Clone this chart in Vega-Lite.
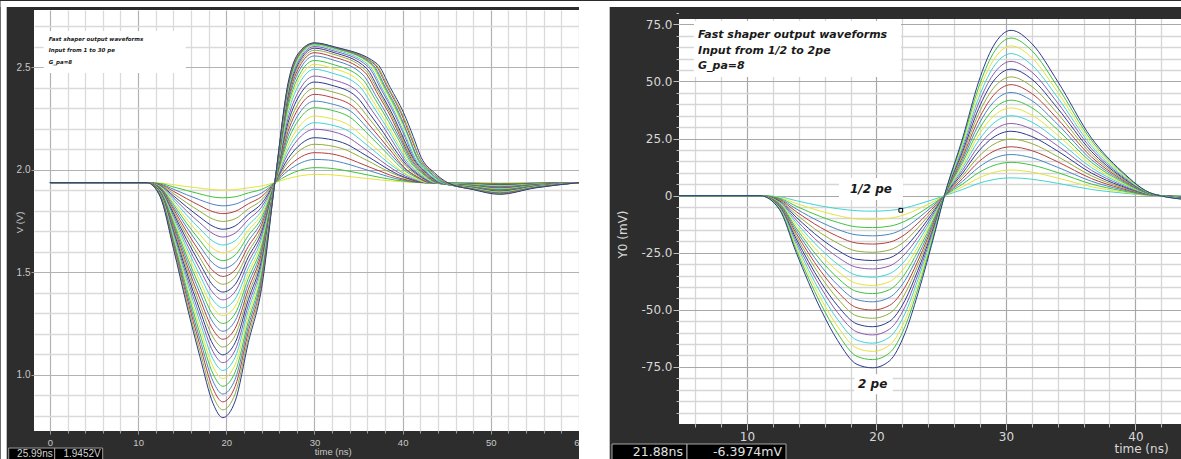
{
"$schema":"https://vega.github.io/schema/vega-lite/v6.json",
"background":"#2d2d2d",
"padding":0,
"config":{"view":{"fill":"#ffffff","stroke":null},"axis":{"domain":false}},
"bounds":"flush",
"spacing":100,
"resolve":{"scale":{"color":"independent"}},
"datasets":{
"Lframe":[{"x1":-5.587,"x2":-4.906,"y1":0.586,"y2":2.822},{"x1":-5.587,"x2":128.3,"y1":2.7926,"y2":2.822},{"x1":60,"x2":63.48,"y1":0.586,"y2":2.822},{"x1":-0.71,"x2":15.4,"y1":2.471,"y2":2.676}],
"Lstat":[{"x1":-4.68,"x2":0.538,"y1":0.586,"y2":0.644},{"x1":0.538,"x2":5.98,"y1":0.586,"y2":0.644}],
"Lnote":[{"x":-0.14,"y":2.637,"text":"Fast shaper output waveforms"},{"x":-0.14,"y":2.583,"text":"Input from 1 to 30 pe"},{"x":-0.14,"y":2.525,"text":"G_pa=8"}],
"Lstxt":[{"x":0.311,"y":0.615,"text":"25.99ns"},{"x":5.755,"y":0.615,"text":"1.9452V"}],
"Rbox":[{"x1":5.91,"x2":21.9,"y1":51.96,"y2":76.48},{"x1":17.11,"x2":22.05,"y1":-1.9,"y2":7.73},{"x1":18.29,"x2":21.26,"y1":-87.0,"y2":-78.24}],
"Rdark":[{"x1":4.75,"x2":43.6,"y1":77.36,"y2":81.3}],
"Rstat":[{"x1":-0.425,"x2":5.368,"y1":-115.77,"y2":-108.76},{"x1":5.368,"x2":13.014,"y1":-115.77,"y2":-108.76}],
"Rnote":[{"x":6.22,"y":70.57,"text":"Fast shaper output waveforms"},{"x":6.22,"y":63.56,"text":"Input from 1/2 to 2pe"},{"x":6.22,"y":56.78,"text":"G_pa=8"}],
"Rlab":[{"x":19.58,"y":2.78,"text":"1/2 pe"},{"x":19.71,"y":-82.6,"text":"2 pe"}],
"Rcur":[{"t":21.88,"v":-6.4}],
"Rstxt":[{"x":5.06,"y":-112.48,"text":"21.88ns"},{"x":12.71,"y":-112.48,"text":"-6.3974mV"}],
"L":[
{"k":1,"t":0,"v":1.937},{"k":1,"t":11,"v":1.937},{"k":1,"t":12.5,"v":1.935},{"k":1,"t":14,"v":1.927},{"k":1,"t":15.5,"v":1.918},{"k":1,"t":17,"v":1.910},{"k":1,"t":18.5,"v":1.903},{"k":1,"t":19.6,"v":1.901},{"k":1,"t":21,"v":1.903},{"k":1,"t":22.5,"v":1.912},{"k":1,"t":24,"v":1.921},{"k":1,"t":25.5,"v":1.937},{"k":1,"t":27,"v":1.957},{"k":1,"t":28.5,"v":1.971},{"k":1,"t":30,"v":1.977},{"k":1,"t":31.5,"v":1.976},{"k":1,"t":33,"v":1.971},{"k":1,"t":34.5,"v":1.964},{"k":1,"t":36,"v":1.957},{"k":1,"t":37.5,"v":1.950},{"k":1,"t":39,"v":1.944},{"k":1,"t":40.5,"v":1.940},{"k":1,"t":42,"v":1.937},{"k":1,"t":48,"v":1.936},{"k":1,"t":51,"v":1.935},{"k":1,"t":55,"v":1.936},{"k":1,"t":60,"v":1.937},
{"k":2,"t":0,"v":1.937},{"k":2,"t":11,"v":1.937},{"k":2,"t":12.5,"v":1.933},{"k":2,"t":14,"v":1.916},{"k":2,"t":15.5,"v":1.899},{"k":2,"t":17,"v":1.882},{"k":2,"t":18.5,"v":1.867},{"k":2,"t":19.6,"v":1.863},{"k":2,"t":21,"v":1.868},{"k":2,"t":22.5,"v":1.887},{"k":2,"t":24,"v":1.904},{"k":2,"t":25.5,"v":1.937},{"k":2,"t":27,"v":1.974},{"k":2,"t":28.5,"v":1.999},{"k":2,"t":30,"v":2.010},{"k":2,"t":31.5,"v":2.008},{"k":2,"t":33.1,"v":1.999},{"k":2,"t":34.6,"v":1.987},{"k":2,"t":36.1,"v":1.974},{"k":2,"t":37.6,"v":1.961},{"k":2,"t":39.1,"v":1.950},{"k":2,"t":40.6,"v":1.942},{"k":2,"t":42.1,"v":1.937},{"k":2,"t":48,"v":1.935},{"k":2,"t":51,"v":1.933},{"k":2,"t":55,"v":1.935},{"k":2,"t":60,"v":1.937},
{"k":3,"t":0,"v":1.937},{"k":3,"t":11,"v":1.937},{"k":3,"t":12.5,"v":1.930},{"k":3,"t":14,"v":1.905},{"k":3,"t":15.5,"v":1.878},{"k":3,"t":17,"v":1.853},{"k":3,"t":18.5,"v":1.831},{"k":3,"t":19.6,"v":1.824},{"k":3,"t":21,"v":1.832},{"k":3,"t":22.5,"v":1.860},{"k":3,"t":24,"v":1.886},{"k":3,"t":25.5,"v":1.937},{"k":3,"t":27,"v":1.995},{"k":3,"t":28.5,"v":2.034},{"k":3,"t":30,"v":2.050},{"k":3,"t":31.6,"v":2.047},{"k":3,"t":33.3,"v":2.033},{"k":3,"t":34.8,"v":2.014},{"k":3,"t":36.3,"v":1.994},{"k":3,"t":37.8,"v":1.974},{"k":3,"t":39.2,"v":1.957},{"k":3,"t":40.7,"v":1.945},{"k":3,"t":42.2,"v":1.937},{"k":3,"t":48,"v":1.934},{"k":3,"t":51,"v":1.931},{"k":3,"t":55,"v":1.934},{"k":3,"t":60,"v":1.937},
{"k":4,"t":0,"v":1.937},{"k":4,"t":11,"v":1.937},{"k":4,"t":12.5,"v":1.928},{"k":4,"t":14,"v":1.895},{"k":4,"t":15.5,"v":1.859},{"k":4,"t":17,"v":1.825},{"k":4,"t":18.5,"v":1.795},{"k":4,"t":19.6,"v":1.786},{"k":4,"t":21,"v":1.797},{"k":4,"t":22.5,"v":1.834},{"k":4,"t":24,"v":1.869},{"k":4,"t":25.5,"v":1.937},{"k":4,"t":27,"v":2.013},{"k":4,"t":28.5,"v":2.063},{"k":4,"t":30,"v":2.083},{"k":4,"t":31.6,"v":2.079},{"k":4,"t":33.4,"v":2.061},{"k":4,"t":34.9,"v":2.036},{"k":4,"t":36.4,"v":2.010},{"k":4,"t":37.9,"v":1.985},{"k":4,"t":39.3,"v":1.963},{"k":4,"t":40.8,"v":1.947},{"k":4,"t":42.3,"v":1.937},{"k":4,"t":48,"v":1.932},{"k":4,"t":51,"v":1.929},{"k":4,"t":55,"v":1.934},{"k":4,"t":60,"v":1.937},
{"k":5,"t":0,"v":1.937},{"k":5,"t":11,"v":1.937},{"k":5,"t":12.5,"v":1.926},{"k":5,"t":14,"v":1.884},{"k":5,"t":15.5,"v":1.839},{"k":5,"t":17,"v":1.797},{"k":5,"t":18.5,"v":1.759},{"k":5,"t":19.6,"v":1.748},{"k":5,"t":21,"v":1.761},{"k":5,"t":22.5,"v":1.809},{"k":5,"t":24,"v":1.852},{"k":5,"t":25.5,"v":1.937},{"k":5,"t":27,"v":2.036},{"k":5,"t":28.5,"v":2.099},{"k":5,"t":30,"v":2.124},{"k":5,"t":31.6,"v":2.118},{"k":5,"t":33.6,"v":2.096},{"k":5,"t":35.1,"v":2.064},{"k":5,"t":36.6,"v":2.031},{"k":5,"t":38,"v":1.999},{"k":5,"t":39.5,"v":1.971},{"k":5,"t":41,"v":1.950},{"k":5,"t":42.5,"v":1.937},{"k":5,"t":48,"v":1.931},{"k":5,"t":51,"v":1.928},{"k":5,"t":55,"v":1.933},{"k":5,"t":60,"v":1.937},
{"k":6,"t":0,"v":1.937},{"k":6,"t":11,"v":1.937},{"k":6,"t":12.5,"v":1.923},{"k":6,"t":14,"v":1.873},{"k":6,"t":15.5,"v":1.819},{"k":6,"t":17,"v":1.769},{"k":6,"t":18.5,"v":1.724},{"k":6,"t":19.6,"v":1.710},{"k":6,"t":21,"v":1.726},{"k":6,"t":22.5,"v":1.783},{"k":6,"t":24,"v":1.835},{"k":6,"t":25.5,"v":1.937},{"k":6,"t":27,"v":2.054},{"k":6,"t":28.5,"v":2.127},{"k":6,"t":30,"v":2.156},{"k":6,"t":31.6,"v":2.149},{"k":6,"t":33.7,"v":2.123},{"k":6,"t":35.2,"v":2.086},{"k":6,"t":36.7,"v":2.047},{"k":6,"t":38.1,"v":2.009},{"k":6,"t":39.5,"v":1.976},{"k":6,"t":41,"v":1.952},{"k":6,"t":42.5,"v":1.937},{"k":6,"t":48,"v":1.930},{"k":6,"t":51,"v":1.926},{"k":6,"t":55,"v":1.932},{"k":6,"t":60,"v":1.937},
{"k":7,"t":0,"v":1.937},{"k":7,"t":11,"v":1.937},{"k":7,"t":12.5,"v":1.921},{"k":7,"t":14,"v":1.863},{"k":7,"t":15.5,"v":1.799},{"k":7,"t":17,"v":1.741},{"k":7,"t":18.5,"v":1.688},{"k":7,"t":19.6,"v":1.672},{"k":7,"t":21,"v":1.691},{"k":7,"t":22.5,"v":1.757},{"k":7,"t":24,"v":1.818},{"k":7,"t":25.5,"v":1.937},{"k":7,"t":27,"v":2.078},{"k":7,"t":28.5,"v":2.164},{"k":7,"t":30,"v":2.197},{"k":7,"t":31.7,"v":2.189},{"k":7,"t":33.8,"v":2.158},{"k":7,"t":35.3,"v":2.114},{"k":7,"t":36.8,"v":2.067},{"k":7,"t":38.2,"v":2.023},{"k":7,"t":39.6,"v":1.984},{"k":7,"t":41.1,"v":1.955},{"k":7,"t":42.6,"v":1.937},{"k":7,"t":48,"v":1.929},{"k":7,"t":51,"v":1.924},{"k":7,"t":55,"v":1.931},{"k":7,"t":60,"v":1.937},
{"k":8,"t":0,"v":1.937},{"k":8,"t":11,"v":1.937},{"k":8,"t":12.5,"v":1.919},{"k":8,"t":14,"v":1.852},{"k":8,"t":15.5,"v":1.779},{"k":8,"t":17,"v":1.712},{"k":8,"t":18.5,"v":1.651},{"k":8,"t":19.6,"v":1.633},{"k":8,"t":21,"v":1.654},{"k":8,"t":22.5,"v":1.730},{"k":8,"t":24,"v":1.800},{"k":8,"t":25.5,"v":1.937},{"k":8,"t":27,"v":2.098},{"k":8,"t":28.5,"v":2.192},{"k":8,"t":30,"v":2.229},{"k":8,"t":31.7,"v":2.220},{"k":8,"t":34,"v":2.185},{"k":8,"t":35.5,"v":2.136},{"k":8,"t":37,"v":2.083},{"k":8,"t":38.4,"v":2.033},{"k":8,"t":39.8,"v":1.990},{"k":8,"t":41.3,"v":1.957},{"k":8,"t":42.8,"v":1.937},{"k":8,"t":48,"v":1.928},{"k":8,"t":51,"v":1.922},{"k":8,"t":55,"v":1.930},{"k":8,"t":60,"v":1.937},
{"k":9,"t":0,"v":1.937},{"k":9,"t":11,"v":1.937},{"k":9,"t":12.5,"v":1.917},{"k":9,"t":14,"v":1.841},{"k":9,"t":15.5,"v":1.759},{"k":9,"t":17,"v":1.684},{"k":9,"t":18.5,"v":1.616},{"k":9,"t":19.6,"v":1.595},{"k":9,"t":21,"v":1.619},{"k":9,"t":22.5,"v":1.704},{"k":9,"t":24,"v":1.783},{"k":9,"t":25.5,"v":1.937},{"k":9,"t":27,"v":2.118},{"k":9,"t":28.5,"v":2.222},{"k":9,"t":30,"v":2.261},{"k":9,"t":31.7,"v":2.251},{"k":9,"t":34.1,"v":2.212},{"k":9,"t":35.6,"v":2.157},{"k":9,"t":37.1,"v":2.099},{"k":9,"t":38.5,"v":2.044},{"k":9,"t":39.8,"v":1.995},{"k":9,"t":41.3,"v":1.960},{"k":9,"t":42.8,"v":1.937},{"k":9,"t":48,"v":1.927},{"k":9,"t":51,"v":1.920},{"k":9,"t":55,"v":1.929},{"k":9,"t":60,"v":1.937},
{"k":10,"t":0,"v":1.937},{"k":10,"t":11,"v":1.937},{"k":10,"t":12.5,"v":1.914},{"k":10,"t":14,"v":1.831},{"k":10,"t":15.5,"v":1.739},{"k":10,"t":17,"v":1.656},{"k":10,"t":18.5,"v":1.580},{"k":10,"t":19.6,"v":1.557},{"k":10,"t":21,"v":1.584},{"k":10,"t":22.5,"v":1.679},{"k":10,"t":24,"v":1.766},{"k":10,"t":25.5,"v":1.937},{"k":10,"t":27,"v":2.143},{"k":10,"t":28.5,"v":2.259},{"k":10,"t":30,"v":2.302},{"k":10,"t":31.8,"v":2.291},{"k":10,"t":34.3,"v":2.247},{"k":10,"t":35.8,"v":2.185},{"k":10,"t":37.3,"v":2.120},{"k":10,"t":38.7,"v":2.058},{"k":10,"t":40,"v":2.003},{"k":10,"t":41.5,"v":1.963},{"k":10,"t":43,"v":1.937},{"k":10,"t":48,"v":1.926},{"k":10,"t":51,"v":1.918},{"k":10,"t":55,"v":1.928},{"k":10,"t":60,"v":1.937},
{"k":11,"t":0,"v":1.937},{"k":11,"t":11,"v":1.937},{"k":11,"t":12.5,"v":1.912},{"k":11,"t":14,"v":1.820},{"k":11,"t":15.5,"v":1.720},{"k":11,"t":17,"v":1.628},{"k":11,"t":18.5,"v":1.544},{"k":11,"t":19.6,"v":1.519},{"k":11,"t":21,"v":1.548},{"k":11,"t":22.5,"v":1.653},{"k":11,"t":24,"v":1.749},{"k":11,"t":25.5,"v":1.937},{"k":11,"t":27,"v":2.164},{"k":11,"t":28.5,"v":2.288},{"k":11,"t":30,"v":2.334},{"k":11,"t":31.8,"v":2.322},{"k":11,"t":34.4,"v":2.275},{"k":11,"t":35.9,"v":2.207},{"k":11,"t":37.4,"v":2.136},{"k":11,"t":38.8,"v":2.068},{"k":11,"t":40.1,"v":2.009},{"k":11,"t":41.6,"v":1.965},{"k":11,"t":43.1,"v":1.937},{"k":11,"t":48,"v":1.924},{"k":11,"t":51,"v":1.916},{"k":11,"t":55,"v":1.928},{"k":11,"t":60,"v":1.937},
{"k":12,"t":0,"v":1.937},{"k":12,"t":11,"v":1.937},{"k":12,"t":12.5,"v":1.910},{"k":12,"t":14,"v":1.809},{"k":12,"t":15.5,"v":1.699},{"k":12,"t":17,"v":1.599},{"k":12,"t":18.5,"v":1.507},{"k":12,"t":19.6,"v":1.480},{"k":12,"t":21,"v":1.512},{"k":12,"t":22.5,"v":1.626},{"k":12,"t":24,"v":1.731},{"k":12,"t":25.5,"v":1.937},{"k":12,"t":27,"v":2.186},{"k":12,"t":28.5,"v":2.319},{"k":12,"t":30,"v":2.367},{"k":12,"t":31.8,"v":2.354},{"k":12,"t":34.5,"v":2.303},{"k":12,"t":36,"v":2.229},{"k":12,"t":37.5,"v":2.152},{"k":12,"t":38.9,"v":2.079},{"k":12,"t":40.1,"v":2.014},{"k":12,"t":41.6,"v":1.967},{"k":12,"t":43.1,"v":1.937},{"k":12,"t":48,"v":1.923},{"k":12,"t":51,"v":1.914},{"k":12,"t":55,"v":1.927},{"k":12,"t":60,"v":1.937},
{"k":13,"t":0,"v":1.937},{"k":13,"t":11,"v":1.937},{"k":13,"t":12.5,"v":1.907},{"k":13,"t":14,"v":1.798},{"k":13,"t":15.5,"v":1.680},{"k":13,"t":17,"v":1.571},{"k":13,"t":18.5,"v":1.472},{"k":13,"t":19.6,"v":1.442},{"k":13,"t":21,"v":1.477},{"k":13,"t":22.5,"v":1.600},{"k":13,"t":24,"v":1.714},{"k":13,"t":25.5,"v":1.937},{"k":13,"t":27,"v":2.206},{"k":13,"t":28.5,"v":2.346},{"k":13,"t":30,"v":2.396},{"k":13,"t":31.8,"v":2.382},{"k":13,"t":34.7,"v":2.327},{"k":13,"t":36.2,"v":2.249},{"k":13,"t":37.7,"v":2.167},{"k":13,"t":39,"v":2.089},{"k":13,"t":40.3,"v":2.020},{"k":13,"t":41.8,"v":1.969},{"k":13,"t":43.3,"v":1.937},{"k":13,"t":48,"v":1.922},{"k":13,"t":51,"v":1.912},{"k":13,"t":55,"v":1.926},{"k":13,"t":60,"v":1.937},
{"k":14,"t":0,"v":1.937},{"k":14,"t":11,"v":1.937},{"k":14,"t":12.5,"v":1.905},{"k":14,"t":14,"v":1.788},{"k":14,"t":15.5,"v":1.660},{"k":14,"t":17,"v":1.543},{"k":14,"t":18.5,"v":1.436},{"k":14,"t":19.6,"v":1.404},{"k":14,"t":21,"v":1.441},{"k":14,"t":22.5,"v":1.575},{"k":14,"t":24,"v":1.697},{"k":14,"t":25.5,"v":1.937},{"k":14,"t":27,"v":2.228},{"k":14,"t":28.5,"v":2.376},{"k":14,"t":30,"v":2.427},{"k":14,"t":31.9,"v":2.412},{"k":14,"t":34.8,"v":2.354},{"k":14,"t":36.3,"v":2.270},{"k":14,"t":37.8,"v":2.182},{"k":14,"t":39.1,"v":2.099},{"k":14,"t":40.4,"v":2.025},{"k":14,"t":41.9,"v":1.971},{"k":14,"t":43.4,"v":1.937},{"k":14,"t":48,"v":1.921},{"k":14,"t":51,"v":1.910},{"k":14,"t":55,"v":1.925},{"k":14,"t":60,"v":1.937},
{"k":15,"t":0,"v":1.937},{"k":15,"t":11,"v":1.937},{"k":15,"t":12.5,"v":1.903},{"k":15,"t":14,"v":1.777},{"k":15,"t":15.5,"v":1.640},{"k":15,"t":17,"v":1.515},{"k":15,"t":18.5,"v":1.400},{"k":15,"t":19.6,"v":1.366},{"k":15,"t":21,"v":1.406},{"k":15,"t":22.5,"v":1.549},{"k":15,"t":24,"v":1.680},{"k":15,"t":25.5,"v":1.937},{"k":15,"t":27,"v":2.249},{"k":15,"t":28.5,"v":2.403},{"k":15,"t":30,"v":2.456},{"k":15,"t":31.9,"v":2.440},{"k":15,"t":35,"v":2.378},{"k":15,"t":36.5,"v":2.290},{"k":15,"t":38,"v":2.197},{"k":15,"t":39.3,"v":2.108},{"k":15,"t":40.5,"v":2.030},{"k":15,"t":42,"v":1.973},{"k":15,"t":43.5,"v":1.937},{"k":15,"t":48,"v":1.920},{"k":15,"t":51,"v":1.909},{"k":15,"t":55,"v":1.924},{"k":15,"t":60,"v":1.937},
{"k":16,"t":0,"v":1.937},{"k":16,"t":11,"v":1.937},{"k":16,"t":12.5,"v":1.900},{"k":16,"t":14,"v":1.766},{"k":16,"t":15.5,"v":1.620},{"k":16,"t":17,"v":1.486},{"k":16,"t":18.5,"v":1.364},{"k":16,"t":19.6,"v":1.327},{"k":16,"t":21,"v":1.370},{"k":16,"t":22.5,"v":1.522},{"k":16,"t":24,"v":1.663},{"k":16,"t":25.5,"v":1.937},{"k":16,"t":27,"v":2.273},{"k":16,"t":28.5,"v":2.435},{"k":16,"t":30,"v":2.489},{"k":16,"t":31.9,"v":2.472},{"k":16,"t":35.1,"v":2.406},{"k":16,"t":36.6,"v":2.312},{"k":16,"t":38.1,"v":2.213},{"k":16,"t":39.4,"v":2.119},{"k":16,"t":40.6,"v":2.036},{"k":16,"t":42.1,"v":1.976},{"k":16,"t":43.6,"v":1.937},{"k":16,"t":48,"v":1.919},{"k":16,"t":51,"v":1.907},{"k":16,"t":55,"v":1.923},{"k":16,"t":60,"v":1.937},
{"k":17,"t":0,"v":1.937},{"k":17,"t":11,"v":1.937},{"k":17,"t":12.5,"v":1.898},{"k":17,"t":14,"v":1.756},{"k":17,"t":15.5,"v":1.600},{"k":17,"t":17,"v":1.458},{"k":17,"t":18.5,"v":1.328},{"k":17,"t":19.6,"v":1.289},{"k":17,"t":21,"v":1.334},{"k":17,"t":22.5,"v":1.496},{"k":17,"t":24,"v":1.645},{"k":17,"t":25.5,"v":1.937},{"k":17,"t":27,"v":2.292},{"k":17,"t":28.5,"v":2.458},{"k":17,"t":30,"v":2.513},{"k":17,"t":31.9,"v":2.496},{"k":17,"t":35.2,"v":2.427},{"k":17,"t":36.7,"v":2.329},{"k":17,"t":38.2,"v":2.225},{"k":17,"t":39.5,"v":2.127},{"k":17,"t":40.7,"v":2.041},{"k":17,"t":42.2,"v":1.977},{"k":17,"t":43.7,"v":1.937},{"k":17,"t":48,"v":1.918},{"k":17,"t":51,"v":1.905},{"k":17,"t":55,"v":1.922},{"k":17,"t":60,"v":1.937},
{"k":18,"t":0,"v":1.937},{"k":18,"t":11,"v":1.937},{"k":18,"t":12.5,"v":1.896},{"k":18,"t":14,"v":1.745},{"k":18,"t":15.5,"v":1.580},{"k":18,"t":17,"v":1.429},{"k":18,"t":18.5,"v":1.292},{"k":18,"t":19.6,"v":1.251},{"k":18,"t":21,"v":1.299},{"k":18,"t":22.5,"v":1.471},{"k":18,"t":24,"v":1.628},{"k":18,"t":25.5,"v":1.937},{"k":18,"t":27,"v":2.308},{"k":18,"t":28.5,"v":2.478},{"k":18,"t":30,"v":2.532},{"k":18,"t":32,"v":2.514},{"k":18,"t":35.4,"v":2.443},{"k":18,"t":36.9,"v":2.342},{"k":18,"t":38.4,"v":2.235},{"k":18,"t":39.7,"v":2.133},{"k":18,"t":40.8,"v":2.044},{"k":18,"t":42.3,"v":1.979},{"k":18,"t":43.8,"v":1.937},{"k":18,"t":48,"v":1.917},{"k":18,"t":51,"v":1.903},{"k":18,"t":55,"v":1.922},{"k":18,"t":60,"v":1.937},
{"k":19,"t":0,"v":1.937},{"k":19,"t":11,"v":1.937},{"k":19,"t":12.5,"v":1.894},{"k":19,"t":14,"v":1.734},{"k":19,"t":15.5,"v":1.561},{"k":19,"t":17,"v":1.401},{"k":19,"t":18.5,"v":1.256},{"k":19,"t":19.6,"v":1.213},{"k":19,"t":21,"v":1.264},{"k":19,"t":22.5,"v":1.445},{"k":19,"t":24,"v":1.611},{"k":19,"t":25.5,"v":1.937},{"k":19,"t":27,"v":2.326},{"k":19,"t":28.5,"v":2.500},{"k":19,"t":30,"v":2.554},{"k":19,"t":32,"v":2.536},{"k":19,"t":35.5,"v":2.462},{"k":19,"t":37,"v":2.357},{"k":19,"t":38.5,"v":2.246},{"k":19,"t":39.8,"v":2.141},{"k":19,"t":40.9,"v":2.048},{"k":19,"t":42.4,"v":1.980},{"k":19,"t":43.9,"v":1.937},{"k":19,"t":48,"v":1.915},{"k":19,"t":51,"v":1.901},{"k":19,"t":55,"v":1.921},{"k":19,"t":60,"v":1.937},
{"k":20,"t":0,"v":1.937},{"k":20,"t":11,"v":1.937},{"k":20,"t":12.5,"v":1.891},{"k":20,"t":14,"v":1.723},{"k":20,"t":15.5,"v":1.540},{"k":20,"t":17,"v":1.372},{"k":20,"t":18.5,"v":1.220},{"k":20,"t":19.6,"v":1.174},{"k":20,"t":21,"v":1.227},{"k":20,"t":22.5,"v":1.418},{"k":20,"t":24,"v":1.594},{"k":20,"t":25.5,"v":1.937},{"k":20,"t":27,"v":2.341},{"k":20,"t":28.5,"v":2.517},{"k":20,"t":30,"v":2.570},{"k":20,"t":32,"v":2.551},{"k":20,"t":35.7,"v":2.475},{"k":20,"t":37.2,"v":2.367},{"k":20,"t":38.7,"v":2.254},{"k":20,"t":39.9,"v":2.146},{"k":20,"t":41,"v":2.051},{"k":20,"t":42.5,"v":1.981},{"k":20,"t":44,"v":1.937},{"k":20,"t":48,"v":1.914},{"k":20,"t":51,"v":1.899},{"k":20,"t":55,"v":1.920},{"k":20,"t":60,"v":1.937},
{"k":21,"t":0,"v":1.937},{"k":21,"t":11,"v":1.937},{"k":21,"t":12.5,"v":1.889},{"k":21,"t":14,"v":1.713},{"k":21,"t":15.5,"v":1.521},{"k":21,"t":17,"v":1.344},{"k":21,"t":18.5,"v":1.184},{"k":21,"t":19.6,"v":1.136},{"k":21,"t":21,"v":1.192},{"k":21,"t":22.5,"v":1.392},{"k":21,"t":24,"v":1.577},{"k":21,"t":25.5,"v":1.937},{"k":21,"t":27,"v":2.353},{"k":21,"t":28.5,"v":2.530},{"k":21,"t":30,"v":2.582},{"k":21,"t":32.1,"v":2.563},{"k":21,"t":35.8,"v":2.485},{"k":21,"t":37.3,"v":2.376},{"k":21,"t":38.8,"v":2.260},{"k":21,"t":40,"v":2.150},{"k":21,"t":41.1,"v":2.053},{"k":21,"t":42.6,"v":1.982},{"k":21,"t":44.1,"v":1.937},{"k":21,"t":48,"v":1.913},{"k":21,"t":51,"v":1.897},{"k":21,"t":55,"v":1.919},{"k":21,"t":60,"v":1.937},
{"k":22,"t":0,"v":1.937},{"k":22,"t":11,"v":1.937},{"k":22,"t":12.5,"v":1.887},{"k":22,"t":14,"v":1.702},{"k":22,"t":15.5,"v":1.501},{"k":22,"t":17,"v":1.316},{"k":22,"t":18.5,"v":1.148},{"k":22,"t":19.6,"v":1.098},{"k":22,"t":21,"v":1.157},{"k":22,"t":22.5,"v":1.367},{"k":22,"t":24,"v":1.559},{"k":22,"t":25.5,"v":1.937},{"k":22,"t":27,"v":2.364},{"k":22,"t":28.5,"v":2.541},{"k":22,"t":30,"v":2.592},{"k":22,"t":32.1,"v":2.572},{"k":22,"t":35.9,"v":2.494},{"k":22,"t":37.4,"v":2.382},{"k":22,"t":38.9,"v":2.265},{"k":22,"t":40.1,"v":2.153},{"k":22,"t":41.2,"v":2.055},{"k":22,"t":42.7,"v":1.983},{"k":22,"t":44.2,"v":1.937},{"k":22,"t":48,"v":1.912},{"k":22,"t":51,"v":1.895},{"k":22,"t":55,"v":1.918},{"k":22,"t":60,"v":1.937},
{"k":23,"t":0,"v":1.937},{"k":23,"t":11,"v":1.937},{"k":23,"t":12.5,"v":1.884},{"k":23,"t":14,"v":1.691},{"k":23,"t":15.5,"v":1.481},{"k":23,"t":17,"v":1.288},{"k":23,"t":18.5,"v":1.113},{"k":23,"t":19.6,"v":1.060},{"k":23,"t":21,"v":1.121},{"k":23,"t":22.5,"v":1.341},{"k":23,"t":24,"v":1.542},{"k":23,"t":25.5,"v":1.937},{"k":23,"t":27,"v":2.374},{"k":23,"t":28.5,"v":2.551},{"k":23,"t":30,"v":2.600},{"k":23,"t":32.1,"v":2.580},{"k":23,"t":36.1,"v":2.501},{"k":23,"t":37.6,"v":2.388},{"k":23,"t":39.1,"v":2.269},{"k":23,"t":40.3,"v":2.156},{"k":23,"t":41.3,"v":2.056},{"k":23,"t":42.8,"v":1.983},{"k":23,"t":44.3,"v":1.937},{"k":23,"t":48,"v":1.911},{"k":23,"t":51,"v":1.893},{"k":23,"t":55,"v":1.917},{"k":23,"t":60,"v":1.937},
{"k":24,"t":0,"v":1.937},{"k":24,"t":11,"v":1.937},{"k":24,"t":12.5,"v":1.882},{"k":24,"t":14,"v":1.681},{"k":24,"t":15.5,"v":1.461},{"k":24,"t":17,"v":1.260},{"k":24,"t":18.5,"v":1.077},{"k":24,"t":19.6,"v":1.022},{"k":24,"t":21,"v":1.086},{"k":24,"t":22.5,"v":1.315},{"k":24,"t":24,"v":1.525},{"k":24,"t":25.5,"v":1.937},{"k":24,"t":27,"v":2.384},{"k":24,"t":28.5,"v":2.559},{"k":24,"t":30,"v":2.607},{"k":24,"t":32.1,"v":2.587},{"k":24,"t":36.2,"v":2.507},{"k":24,"t":37.7,"v":2.393},{"k":24,"t":39.2,"v":2.272},{"k":24,"t":40.4,"v":2.158},{"k":24,"t":41.4,"v":2.058},{"k":24,"t":42.9,"v":1.984},{"k":24,"t":44.4,"v":1.937},{"k":24,"t":48,"v":1.910},{"k":24,"t":51,"v":1.891},{"k":24,"t":55,"v":1.917},{"k":24,"t":60,"v":1.937},
{"k":25,"t":0,"v":1.937},{"k":25,"t":11,"v":1.937},{"k":25,"t":12.5,"v":1.880},{"k":25,"t":14,"v":1.670},{"k":25,"t":15.5,"v":1.441},{"k":25,"t":17,"v":1.231},{"k":25,"t":18.5,"v":1.040},{"k":25,"t":19.6,"v":0.983},{"k":25,"t":21,"v":1.050},{"k":25,"t":22.5,"v":1.288},{"k":25,"t":24,"v":1.508},{"k":25,"t":25.5,"v":1.937},{"k":25,"t":27,"v":2.391},{"k":25,"t":28.5,"v":2.566},{"k":25,"t":30,"v":2.611},{"k":25,"t":32.2,"v":2.591},{"k":25,"t":36.4,"v":2.510},{"k":25,"t":37.9,"v":2.395},{"k":25,"t":39.4,"v":2.274},{"k":25,"t":40.6,"v":2.159},{"k":25,"t":41.6,"v":2.058},{"k":25,"t":43.1,"v":1.984},{"k":25,"t":44.6,"v":1.937},{"k":25,"t":48,"v":1.909},{"k":25,"t":51,"v":1.890},{"k":25,"t":55,"v":1.916},{"k":25,"t":60,"v":1.937},
{"k":26,"t":0,"v":1.937},{"k":26,"t":11,"v":1.937},{"k":26,"t":12.5,"v":1.878},{"k":26,"t":14,"v":1.659},{"k":26,"t":15.5,"v":1.421},{"k":26,"t":17,"v":1.203},{"k":26,"t":18.5,"v":1.005},{"k":26,"t":19.6,"v":0.945},{"k":26,"t":21,"v":1.014},{"k":26,"t":22.5,"v":1.262},{"k":26,"t":24,"v":1.491},{"k":26,"t":25.5,"v":1.937},{"k":26,"t":27,"v":2.397},{"k":26,"t":28.5,"v":2.570},{"k":26,"t":30,"v":2.613},{"k":26,"t":32.2,"v":2.593},{"k":26,"t":36.5,"v":2.512},{"k":26,"t":38,"v":2.397},{"k":26,"t":39.5,"v":2.275},{"k":26,"t":40.7,"v":2.160},{"k":26,"t":41.6,"v":2.059},{"k":26,"t":43.1,"v":1.984},{"k":26,"t":44.6,"v":1.937},{"k":26,"t":48,"v":1.907},{"k":26,"t":51,"v":1.888},{"k":26,"t":55,"v":1.915},{"k":26,"t":60,"v":1.937},
{"k":27,"t":0,"v":1.937},{"k":27,"t":11,"v":1.937},{"k":27,"t":12.5,"v":1.875},{"k":27,"t":14,"v":1.649},{"k":27,"t":15.5,"v":1.401},{"k":27,"t":17,"v":1.175},{"k":27,"t":18.5,"v":0.969},{"k":27,"t":19.6,"v":0.907},{"k":27,"t":21,"v":0.979},{"k":27,"t":22.5,"v":1.237},{"k":27,"t":24,"v":1.474},{"k":27,"t":25.5,"v":1.937},{"k":27,"t":27,"v":2.404},{"k":27,"t":28.5,"v":2.574},{"k":27,"t":30,"v":2.615},{"k":27,"t":32.2,"v":2.595},{"k":27,"t":36.6,"v":2.513},{"k":27,"t":38.1,"v":2.398},{"k":27,"t":39.6,"v":2.276},{"k":27,"t":40.7,"v":2.161},{"k":27,"t":41.7,"v":2.059},{"k":27,"t":43.2,"v":1.985},{"k":27,"t":44.7,"v":1.937},{"k":27,"t":48,"v":1.906},{"k":27,"t":51,"v":1.886},{"k":27,"t":55,"v":1.914},{"k":27,"t":60,"v":1.937},
{"k":28,"t":0,"v":1.937},{"k":28,"t":11,"v":1.937},{"k":28,"t":12.5,"v":1.873},{"k":28,"t":14,"v":1.638},{"k":28,"t":15.5,"v":1.382},{"k":28,"t":17,"v":1.147},{"k":28,"t":18.5,"v":0.933},{"k":28,"t":19.6,"v":0.869},{"k":28,"t":21,"v":0.944},{"k":28,"t":22.5,"v":1.211},{"k":28,"t":24,"v":1.456},{"k":28,"t":25.5,"v":1.937},{"k":28,"t":27,"v":2.409},{"k":28,"t":28.5,"v":2.577},{"k":28,"t":30,"v":2.616},{"k":28,"t":32.3,"v":2.596},{"k":28,"t":36.8,"v":2.514},{"k":28,"t":38.3,"v":2.399},{"k":28,"t":39.8,"v":2.277},{"k":28,"t":40.9,"v":2.161},{"k":28,"t":41.9,"v":2.059},{"k":28,"t":43.4,"v":1.985},{"k":28,"t":44.9,"v":1.937},{"k":28,"t":48,"v":1.905},{"k":28,"t":51,"v":1.884},{"k":28,"t":55,"v":1.913},{"k":28,"t":60,"v":1.937},
{"k":29,"t":0,"v":1.937},{"k":29,"t":11,"v":1.937},{"k":29,"t":12.5,"v":1.871},{"k":29,"t":14,"v":1.627},{"k":29,"t":15.5,"v":1.361},{"k":29,"t":17,"v":1.118},{"k":29,"t":18.5,"v":0.896},{"k":29,"t":19.6,"v":0.830},{"k":29,"t":21,"v":0.908},{"k":29,"t":22.5,"v":1.184},{"k":29,"t":24,"v":1.439},{"k":29,"t":25.5,"v":1.937},{"k":29,"t":27,"v":2.415},{"k":29,"t":28.5,"v":2.581},{"k":29,"t":30,"v":2.617},{"k":29,"t":32.3,"v":2.597},{"k":29,"t":36.9,"v":2.515},{"k":29,"t":38.4,"v":2.399},{"k":29,"t":39.9,"v":2.277},{"k":29,"t":41,"v":2.161},{"k":29,"t":41.9,"v":2.059},{"k":29,"t":43.4,"v":1.985},{"k":29,"t":44.9,"v":1.937},{"k":29,"t":48,"v":1.904},{"k":29,"t":51,"v":1.882},{"k":29,"t":55,"v":1.912},{"k":29,"t":60,"v":1.937},
{"k":30,"t":0,"v":1.937},{"k":30,"t":11,"v":1.937},{"k":30,"t":12.5,"v":1.868},{"k":30,"t":14,"v":1.616},{"k":30,"t":15.5,"v":1.342},{"k":30,"t":17,"v":1.090},{"k":30,"t":18.5,"v":0.861},{"k":30,"t":19.6,"v":0.792},{"k":30,"t":21,"v":0.872},{"k":30,"t":22.5,"v":1.158},{"k":30,"t":24,"v":1.422},{"k":30,"t":25.5,"v":1.937},{"k":30,"t":27,"v":2.421},{"k":30,"t":28.5,"v":2.584},{"k":30,"t":30,"v":2.618},{"k":30,"t":32.3,"v":2.598},{"k":30,"t":37.1,"v":2.516},{"k":30,"t":38.6,"v":2.400},{"k":30,"t":40.1,"v":2.278},{"k":30,"t":41.2,"v":2.162},{"k":30,"t":42.1,"v":2.060},{"k":30,"t":43.6,"v":1.985},{"k":30,"t":45.1,"v":1.937},{"k":30,"t":48,"v":1.903},{"k":30,"t":51,"v":1.880},{"k":30,"t":55,"v":1.911},{"k":30,"t":60,"v":1.937}
],
"R":[
{"k":1,"t":0,"v":0},{"k":1,"t":11,"v":0},{"k":1,"t":12.5,"v":-0.5},{"k":1,"t":13.8,"v":-2.2},{"k":1,"t":15.7,"v":-4.5},{"k":1,"t":17,"v":-5.7},{"k":1,"t":18.5,"v":-6.6},{"k":1,"t":19.7,"v":-6.8},{"k":1,"t":21,"v":-6.5},{"k":1,"t":22.2,"v":-5.4},{"k":1,"t":23.2,"v":-3.8},{"k":1,"t":24.6,"v":-1.3},{"k":1,"t":25.25,"v":0},{"k":1,"t":26.66,"v":2.7},{"k":1,"t":27.9,"v":5.4},{"k":1,"t":29,"v":7.0},{"k":1,"t":30.4,"v":7.8},{"k":1,"t":32,"v":7.2},{"k":1,"t":34,"v":5.4},{"k":1,"t":36.6,"v":2.7},{"k":1,"t":38.9,"v":1.2},{"k":1,"t":41.4,"v":0.1},{"k":1,"t":45,"v":-0.2},
{"k":2,"t":0,"v":0},{"k":2,"t":11,"v":0},{"k":2,"t":12.5,"v":-0.8},{"k":2,"t":13.8,"v":-3.4},{"k":2,"t":15.7,"v":-6.8},{"k":2,"t":17,"v":-8.7},{"k":2,"t":18.5,"v":-10.2},{"k":2,"t":19.7,"v":-10.4},{"k":2,"t":21,"v":-9.9},{"k":2,"t":22.2,"v":-8.3},{"k":2,"t":23.2,"v":-5.9},{"k":2,"t":24.6,"v":-2.0},{"k":2,"t":25.25,"v":0},{"k":2,"t":26.66,"v":3.9},{"k":2,"t":27.9,"v":7.7},{"k":2,"t":29,"v":10.1},{"k":2,"t":30.4,"v":11.2},{"k":2,"t":32,"v":10.3},{"k":2,"t":34,"v":7.7},{"k":2,"t":36.6,"v":3.9},{"k":2,"t":38.9,"v":1.7},{"k":2,"t":41.4,"v":0.1},{"k":2,"t":45,"v":-0.3},
{"k":3,"t":0,"v":0},{"k":3,"t":11,"v":0},{"k":3,"t":12.5,"v":-1.1},{"k":3,"t":13.8,"v":-4.6},{"k":3,"t":15.7,"v":-9.2},{"k":3,"t":17,"v":-11.7},{"k":3,"t":18.5,"v":-13.7},{"k":3,"t":19.7,"v":-14.0},{"k":3,"t":21,"v":-13.4},{"k":3,"t":22.2,"v":-11.2},{"k":3,"t":23.2,"v":-8.0},{"k":3,"t":24.6,"v":-2.7},{"k":3,"t":25.25,"v":0},{"k":3,"t":26.66,"v":5.1},{"k":3,"t":27.9,"v":10.1},{"k":3,"t":29,"v":13.1},{"k":3,"t":30.4,"v":14.6},{"k":3,"t":32,"v":13.4},{"k":3,"t":34,"v":10.1},{"k":3,"t":36.6,"v":5.1},{"k":3,"t":38.9,"v":2.2},{"k":3,"t":41.4,"v":0.1},{"k":3,"t":45,"v":-0.4},
{"k":4,"t":0,"v":0},{"k":4,"t":11,"v":0},{"k":4,"t":12.5,"v":-1.4},{"k":4,"t":13.8,"v":-5.8},{"k":4,"t":15.7,"v":-11.6},{"k":4,"t":17,"v":-14.8},{"k":4,"t":18.5,"v":-17.2},{"k":4,"t":19.7,"v":-17.6},{"k":4,"t":21,"v":-16.9},{"k":4,"t":22.2,"v":-14.1},{"k":4,"t":23.2,"v":-10.0},{"k":4,"t":24.6,"v":-3.3},{"k":4,"t":25.25,"v":0},{"k":4,"t":26.66,"v":6.3},{"k":4,"t":27.9,"v":12.4},{"k":4,"t":29,"v":16.2},{"k":4,"t":30.4,"v":18.0},{"k":4,"t":32,"v":16.6},{"k":4,"t":34,"v":12.4},{"k":4,"t":36.6,"v":6.3},{"k":4,"t":38.9,"v":2.7},{"k":4,"t":41.4,"v":0.2},{"k":4,"t":45,"v":-0.5},
{"k":5,"t":0,"v":0},{"k":5,"t":11,"v":0},{"k":5,"t":12.5,"v":-1.7},{"k":5,"t":13.8,"v":-7.0},{"k":5,"t":15.7,"v":-14.0},{"k":5,"t":17,"v":-17.8},{"k":5,"t":18.5,"v":-20.8},{"k":5,"t":19.7,"v":-21.2},{"k":5,"t":21,"v":-20.4},{"k":5,"t":22.2,"v":-17.0},{"k":5,"t":23.2,"v":-12.1},{"k":5,"t":24.6,"v":-4.0},{"k":5,"t":25.25,"v":0},{"k":5,"t":26.66,"v":7.5},{"k":5,"t":27.9,"v":14.8},{"k":5,"t":29,"v":19.3},{"k":5,"t":30.4,"v":21.4},{"k":5,"t":32,"v":19.7},{"k":5,"t":34,"v":14.8},{"k":5,"t":36.6,"v":7.5},{"k":5,"t":38.9,"v":3.2},{"k":5,"t":41.4,"v":0.2},{"k":5,"t":45,"v":-0.6},
{"k":6,"t":0,"v":0},{"k":6,"t":11,"v":0},{"k":6,"t":12.5,"v":-2.0},{"k":6,"t":13.8,"v":-8.2},{"k":6,"t":15.7,"v":-16.4},{"k":6,"t":17,"v":-20.8},{"k":6,"t":18.5,"v":-24.3},{"k":6,"t":19.7,"v":-24.8},{"k":6,"t":21,"v":-23.8},{"k":6,"t":22.2,"v":-19.9},{"k":6,"t":23.2,"v":-14.1},{"k":6,"t":24.6,"v":-4.7},{"k":6,"t":25.25,"v":0},{"k":6,"t":26.66,"v":8.7},{"k":6,"t":27.9,"v":17.1},{"k":6,"t":29,"v":22.3},{"k":6,"t":30.4,"v":24.8},{"k":6,"t":32,"v":22.8},{"k":6,"t":34,"v":17.1},{"k":6,"t":36.6,"v":8.7},{"k":6,"t":38.9,"v":3.7},{"k":6,"t":41.4,"v":0.2},{"k":6,"t":45,"v":-0.7},
{"k":7,"t":0,"v":0},{"k":7,"t":11,"v":0},{"k":7,"t":12.5,"v":-2.3},{"k":7,"t":13.8,"v":-9.4},{"k":7,"t":15.7,"v":-18.8},{"k":7,"t":17,"v":-23.9},{"k":7,"t":18.5,"v":-27.9},{"k":7,"t":19.7,"v":-28.4},{"k":7,"t":21,"v":-27.3},{"k":7,"t":22.2,"v":-22.7},{"k":7,"t":23.2,"v":-16.2},{"k":7,"t":24.6,"v":-5.4},{"k":7,"t":25.25,"v":0},{"k":7,"t":26.66,"v":9.9},{"k":7,"t":27.9,"v":19.5},{"k":7,"t":29,"v":25.4},{"k":7,"t":30.4,"v":28.2},{"k":7,"t":32,"v":25.9},{"k":7,"t":34,"v":19.5},{"k":7,"t":36.6,"v":9.9},{"k":7,"t":38.9,"v":4.2},{"k":7,"t":41.4,"v":0.3},{"k":7,"t":45,"v":-0.8},
{"k":8,"t":0,"v":0},{"k":8,"t":11,"v":0},{"k":8,"t":12.5,"v":-2.6},{"k":8,"t":13.8,"v":-10.6},{"k":8,"t":15.7,"v":-21.2},{"k":8,"t":17,"v":-26.9},{"k":8,"t":18.5,"v":-31.4},{"k":8,"t":19.7,"v":-32.1},{"k":8,"t":21,"v":-30.8},{"k":8,"t":22.2,"v":-25.6},{"k":8,"t":23.2,"v":-18.3},{"k":8,"t":24.6,"v":-6.1},{"k":8,"t":25.25,"v":0},{"k":8,"t":26.66,"v":11.1},{"k":8,"t":27.9,"v":21.8},{"k":8,"t":29,"v":28.4},{"k":8,"t":30.4,"v":31.6},{"k":8,"t":32,"v":29.1},{"k":8,"t":34,"v":21.8},{"k":8,"t":36.6,"v":11.1},{"k":8,"t":38.9,"v":4.7},{"k":8,"t":41.4,"v":0.3},{"k":8,"t":45,"v":-0.9},
{"k":9,"t":0,"v":0},{"k":9,"t":11,"v":0},{"k":9,"t":12.5,"v":-2.9},{"k":9,"t":13.8,"v":-11.8},{"k":9,"t":15.7,"v":-23.5},{"k":9,"t":17,"v":-30.0},{"k":9,"t":18.5,"v":-34.9},{"k":9,"t":19.7,"v":-35.7},{"k":9,"t":21,"v":-34.2},{"k":9,"t":22.2,"v":-28.5},{"k":9,"t":23.2,"v":-20.3},{"k":9,"t":24.6,"v":-6.8},{"k":9,"t":25.25,"v":0},{"k":9,"t":26.66,"v":12.3},{"k":9,"t":27.9,"v":24.2},{"k":9,"t":29,"v":31.5},{"k":9,"t":30.4,"v":35.0},{"k":9,"t":32,"v":32.2},{"k":9,"t":34,"v":24.2},{"k":9,"t":36.6,"v":12.3},{"k":9,"t":38.9,"v":5.3},{"k":9,"t":41.4,"v":0.4},{"k":9,"t":45,"v":-1.1},
{"k":10,"t":0,"v":0},{"k":10,"t":11,"v":0},{"k":10,"t":12.5,"v":-3.1},{"k":10,"t":13.8,"v":-13.0},{"k":10,"t":15.7,"v":-25.9},{"k":10,"t":17,"v":-33.0},{"k":10,"t":18.5,"v":-38.5},{"k":10,"t":19.7,"v":-39.3},{"k":10,"t":21,"v":-37.7},{"k":10,"t":22.2,"v":-31.4},{"k":10,"t":23.2,"v":-22.4},{"k":10,"t":24.6,"v":-7.5},{"k":10,"t":25.25,"v":0},{"k":10,"t":26.66,"v":13.4},{"k":10,"t":27.9,"v":26.5},{"k":10,"t":29,"v":34.6},{"k":10,"t":30.4,"v":38.4},{"k":10,"t":32,"v":35.3},{"k":10,"t":34,"v":26.5},{"k":10,"t":36.6,"v":13.4},{"k":10,"t":38.9,"v":5.8},{"k":10,"t":41.4,"v":0.4},{"k":10,"t":45,"v":-1.2},
{"k":11,"t":0,"v":0},{"k":11,"t":11,"v":0},{"k":11,"t":12.5,"v":-3.4},{"k":11,"t":13.8,"v":-14.2},{"k":11,"t":15.7,"v":-28.3},{"k":11,"t":17,"v":-36.0},{"k":11,"t":18.5,"v":-42.0},{"k":11,"t":19.7,"v":-42.9},{"k":11,"t":21,"v":-41.2},{"k":11,"t":22.2,"v":-34.3},{"k":11,"t":23.2,"v":-24.4},{"k":11,"t":24.6,"v":-8.1},{"k":11,"t":25.25,"v":0},{"k":11,"t":26.66,"v":14.6},{"k":11,"t":27.9,"v":28.8},{"k":11,"t":29,"v":37.6},{"k":11,"t":30.4,"v":41.8},{"k":11,"t":32,"v":38.5},{"k":11,"t":34,"v":28.8},{"k":11,"t":36.6,"v":14.6},{"k":11,"t":38.9,"v":6.3},{"k":11,"t":41.4,"v":0.4},{"k":11,"t":45,"v":-1.3},
{"k":12,"t":0,"v":0},{"k":12,"t":11,"v":0},{"k":12,"t":12.5,"v":-3.7},{"k":12,"t":13.8,"v":-15.3},{"k":12,"t":15.7,"v":-30.7},{"k":12,"t":17,"v":-39.1},{"k":12,"t":18.5,"v":-45.6},{"k":12,"t":19.7,"v":-46.5},{"k":12,"t":21,"v":-44.6},{"k":12,"t":22.2,"v":-37.2},{"k":12,"t":23.2,"v":-26.5},{"k":12,"t":24.6,"v":-8.8},{"k":12,"t":25.25,"v":0},{"k":12,"t":26.66,"v":15.8},{"k":12,"t":27.9,"v":31.2},{"k":12,"t":29,"v":40.7},{"k":12,"t":30.4,"v":45.2},{"k":12,"t":32,"v":41.6},{"k":12,"t":34,"v":31.2},{"k":12,"t":36.6,"v":15.8},{"k":12,"t":38.9,"v":6.8},{"k":12,"t":41.4,"v":0.5},{"k":12,"t":45,"v":-1.4},
{"k":13,"t":0,"v":0},{"k":13,"t":11,"v":0},{"k":13,"t":12.5,"v":-4.0},{"k":13,"t":13.8,"v":-16.5},{"k":13,"t":15.7,"v":-33.1},{"k":13,"t":17,"v":-42.1},{"k":13,"t":18.5,"v":-49.1},{"k":13,"t":19.7,"v":-50.1},{"k":13,"t":21,"v":-48.1},{"k":13,"t":22.2,"v":-40.1},{"k":13,"t":23.2,"v":-28.6},{"k":13,"t":24.6,"v":-9.5},{"k":13,"t":25.25,"v":0},{"k":13,"t":26.66,"v":17.0},{"k":13,"t":27.9,"v":33.5},{"k":13,"t":29,"v":43.7},{"k":13,"t":30.4,"v":48.6},{"k":13,"t":32,"v":44.7},{"k":13,"t":34,"v":33.5},{"k":13,"t":36.6,"v":17.0},{"k":13,"t":38.9,"v":7.3},{"k":13,"t":41.4,"v":0.5},{"k":13,"t":45,"v":-1.5},
{"k":14,"t":0,"v":0},{"k":14,"t":11,"v":0},{"k":14,"t":12.5,"v":-4.3},{"k":14,"t":13.8,"v":-17.7},{"k":14,"t":15.7,"v":-35.5},{"k":14,"t":17,"v":-45.1},{"k":14,"t":18.5,"v":-52.7},{"k":14,"t":19.7,"v":-53.7},{"k":14,"t":21,"v":-51.6},{"k":14,"t":22.2,"v":-43.0},{"k":14,"t":23.2,"v":-30.6},{"k":14,"t":24.6,"v":-10.2},{"k":14,"t":25.25,"v":0},{"k":14,"t":26.66,"v":18.2},{"k":14,"t":27.9,"v":35.9},{"k":14,"t":29,"v":46.8},{"k":14,"t":30.4,"v":52.0},{"k":14,"t":32,"v":47.8},{"k":14,"t":34,"v":35.9},{"k":14,"t":36.6,"v":18.2},{"k":14,"t":38.9,"v":7.8},{"k":14,"t":41.4,"v":0.5},{"k":14,"t":45,"v":-1.6},
{"k":15,"t":0,"v":0},{"k":15,"t":11,"v":0},{"k":15,"t":12.5,"v":-4.6},{"k":15,"t":13.8,"v":-18.9},{"k":15,"t":15.7,"v":-37.9},{"k":15,"t":17,"v":-48.2},{"k":15,"t":18.5,"v":-56.2},{"k":15,"t":19.7,"v":-57.4},{"k":15,"t":21,"v":-55.1},{"k":15,"t":22.2,"v":-45.9},{"k":15,"t":23.2,"v":-32.7},{"k":15,"t":24.6,"v":-10.9},{"k":15,"t":25.25,"v":0},{"k":15,"t":26.66,"v":19.4},{"k":15,"t":27.9,"v":38.2},{"k":15,"t":29,"v":49.9},{"k":15,"t":30.4,"v":55.4},{"k":15,"t":32,"v":51.0},{"k":15,"t":34,"v":38.2},{"k":15,"t":36.6,"v":19.4},{"k":15,"t":38.9,"v":8.3},{"k":15,"t":41.4,"v":0.6},{"k":15,"t":45,"v":-1.7},
{"k":16,"t":0,"v":0},{"k":16,"t":11,"v":0},{"k":16,"t":12.5,"v":-4.9},{"k":16,"t":13.8,"v":-20.1},{"k":16,"t":15.7,"v":-40.2},{"k":16,"t":17,"v":-51.2},{"k":16,"t":18.5,"v":-59.7},{"k":16,"t":19.7,"v":-61.0},{"k":16,"t":21,"v":-58.5},{"k":16,"t":22.2,"v":-48.8},{"k":16,"t":23.2,"v":-34.7},{"k":16,"t":24.6,"v":-11.6},{"k":16,"t":25.25,"v":0},{"k":16,"t":26.66,"v":20.6},{"k":16,"t":27.9,"v":40.6},{"k":16,"t":29,"v":52.9},{"k":16,"t":30.4,"v":58.8},{"k":16,"t":32,"v":54.1},{"k":16,"t":34,"v":40.6},{"k":16,"t":36.6,"v":20.6},{"k":16,"t":38.9,"v":8.8},{"k":16,"t":41.4,"v":0.6},{"k":16,"t":45,"v":-1.8},
{"k":17,"t":0,"v":0},{"k":17,"t":11,"v":0},{"k":17,"t":12.5,"v":-5.2},{"k":17,"t":13.8,"v":-21.3},{"k":17,"t":15.7,"v":-42.6},{"k":17,"t":17,"v":-54.2},{"k":17,"t":18.5,"v":-63.3},{"k":17,"t":19.7,"v":-64.6},{"k":17,"t":21,"v":-62.0},{"k":17,"t":22.2,"v":-51.7},{"k":17,"t":23.2,"v":-36.8},{"k":17,"t":24.6,"v":-12.3},{"k":17,"t":25.25,"v":0},{"k":17,"t":26.66,"v":21.8},{"k":17,"t":27.9,"v":42.9},{"k":17,"t":29,"v":56.0},{"k":17,"t":30.4,"v":62.2},{"k":17,"t":32,"v":57.2},{"k":17,"t":34,"v":42.9},{"k":17,"t":36.6,"v":21.8},{"k":17,"t":38.9,"v":9.3},{"k":17,"t":41.4,"v":0.6},{"k":17,"t":45,"v":-1.9},
{"k":18,"t":0,"v":0},{"k":18,"t":11,"v":0},{"k":18,"t":12.5,"v":-5.5},{"k":18,"t":13.8,"v":-22.5},{"k":18,"t":15.7,"v":-45.0},{"k":18,"t":17,"v":-57.3},{"k":18,"t":18.5,"v":-66.8},{"k":18,"t":19.7,"v":-68.2},{"k":18,"t":21,"v":-65.5},{"k":18,"t":22.2,"v":-54.6},{"k":18,"t":23.2,"v":-38.9},{"k":18,"t":24.6,"v":-13.0},{"k":18,"t":25.25,"v":0},{"k":18,"t":26.66,"v":23.0},{"k":18,"t":27.9,"v":45.3},{"k":18,"t":29,"v":59.0},{"k":18,"t":30.4,"v":65.6},{"k":18,"t":32,"v":60.4},{"k":18,"t":34,"v":45.3},{"k":18,"t":36.6,"v":23.0},{"k":18,"t":38.9,"v":9.8},{"k":18,"t":41.4,"v":0.7},{"k":18,"t":45,"v":-2.0},
{"k":19,"t":0,"v":0},{"k":19,"t":11,"v":0},{"k":19,"t":12.5,"v":-5.7},{"k":19,"t":13.8,"v":-23.7},{"k":19,"t":15.7,"v":-47.4},{"k":19,"t":17,"v":-60.3},{"k":19,"t":18.5,"v":-70.4},{"k":19,"t":19.7,"v":-71.8},{"k":19,"t":21,"v":-68.9},{"k":19,"t":22.2,"v":-57.4},{"k":19,"t":23.2,"v":-40.9},{"k":19,"t":24.6,"v":-13.6},{"k":19,"t":25.25,"v":0},{"k":19,"t":26.66,"v":24.2},{"k":19,"t":27.9,"v":47.6},{"k":19,"t":29,"v":62.1},{"k":19,"t":30.4,"v":69.0},{"k":19,"t":32,"v":63.5},{"k":19,"t":34,"v":47.6},{"k":19,"t":36.6,"v":24.2},{"k":19,"t":38.9,"v":10.4},{"k":19,"t":41.4,"v":0.7},{"k":19,"t":45,"v":-2.1},
{"k":20,"t":0,"v":0},{"k":20,"t":11,"v":0},{"k":20,"t":12.5,"v":-6.0},{"k":20,"t":13.8,"v":-24.9},{"k":20,"t":15.7,"v":-49.8},{"k":20,"t":17,"v":-63.4},{"k":20,"t":18.5,"v":-73.9},{"k":20,"t":19.7,"v":-75.4},{"k":20,"t":21,"v":-72.4},{"k":20,"t":22.2,"v":-60.3},{"k":20,"t":23.2,"v":-43.0},{"k":20,"t":24.6,"v":-14.3},{"k":20,"t":25.25,"v":0},{"k":20,"t":26.66,"v":25.3},{"k":20,"t":27.9,"v":50.0},{"k":20,"t":29,"v":65.2},{"k":20,"t":30.4,"v":72.4},{"k":20,"t":32,"v":66.6},{"k":20,"t":34,"v":50.0},{"k":20,"t":36.6,"v":25.3},{"k":20,"t":38.9,"v":10.9},{"k":20,"t":41.4,"v":0.7},{"k":20,"t":45,"v":-2.2}
]
},
"hconcat":[
{
"width":545,"height":421,
"resolve":{"axis":{"x":"independent","y":"independent"}},
"layer":[
{"data":{"name":"Lframe"},"mark":{"type":"rect","fill":"#ffffff","clip":false},
"encoding":{
"x":{"field":"x1","type":"quantitative","scale":{"domain":[-1.81,60],"nice":false,"zero":false},
"axis":{"orient":"bottom","values":[2,4,6,8,12,14,16,18,22,24,26,28,32,34,36,38,42,44,46,48,52,54,56,58],"labels":false,"title":null,"domain":false,"ticks":true,"tickSize":2,"tickColor":"#9a9a9a","grid":true,"gridColor":"#dadada","gridWidth":1.3}},
"x2":{"field":"x2"},
"y":{"field":"y1","type":"quantitative","scale":{"domain":[0.727,2.778],"nice":false,"zero":false},
"axis":{"orient":"left","values":[0.8,0.9,1.1,1.2,1.3,1.4,1.6,1.7,1.8,1.9,2.1,2.2,2.3,2.4,2.6,2.7],"labels":false,"title":null,"domain":false,"ticks":false,"grid":true,"gridColor":"#dadada","gridWidth":1.3}},
"y2":{"field":"y2"}}},
{"data":{"name":"Lstat"},"mark":{"type":"rect","fill":"#000000","stroke":"#9c9c9c","strokeWidth":1,"clip":false},
"encoding":{
"x":{"field":"x1","type":"quantitative","scale":{"domain":[-1.81,60],"nice":false,"zero":false},"axis":null},
"x2":{"field":"x2"},
"y":{"field":"y1","type":"quantitative","scale":{"domain":[0.727,2.778],"nice":false,"zero":false},"axis":null},
"y2":{"field":"y2"}}},
{"data":{"name":"L"},"mark":{"type":"line","strokeWidth":1,"interpolate":"monotone","clip":true},
"encoding":{
"x":{"field":"t","type":"quantitative","scale":{"domain":[-1.81,60],"nice":false,"zero":false},
"axis":{"orient":"bottom","values":[0,10,20,30,40,50,60],"title":"time (ns)","titleX":298.7,"titleY":20.7,"titleBaseline":"middle","titleAlign":"center","titleColor":"#c8c8c8","titleFont":"Liberation Sans","titleFontSize":9.5,"titleFontWeight":"normal","labelColor":"#c8c8c8","labelFont":"Liberation Sans","labelFontSize":9.5,"labelPadding":3,"labelFlush":false,"labelOverlap":false,"tickSize":3,"tickColor":"#9a9a9a","domain":false,"grid":true,"gridColor":"#b2b2b2","gridWidth":1.2}},
"y":{"field":"v","type":"quantitative","scale":{"domain":[0.727,2.778],"nice":false,"zero":false},
"axis":{"orient":"left","values":[1,1.5,2,2.5],"format":".1f","title":"V (V)","titleX":-15,"titleY":212,"titleAngle":270,"titleAlign":"center","titleBaseline":"middle","titleColor":"#c8c8c8","titleFont":"Liberation Sans","titleFontSize":9.5,"titleFontWeight":"normal","labelColor":"#c8c8c8","labelFont":"Liberation Sans","labelFontSize":10,"labelPadding":1,"labelFlush":false,"labelOverlap":false,"tickSize":3,"tickColor":"#9a9a9a","domain":false,"grid":true,"gridColor":"#b2b2b2","gridWidth":1.2}},
"color":{"field":"k","type":"nominal","legend":null,
"scale":{"domain":[1,2,3,4,5,6,7,8,9,10,11,12,13,14,15,16,17,18,19,20,21,22,23,24,25,26,27,28,29,30],
"range":["#e4e43a","#3ec43e","#4a86c0","#b4403c","#94ac3c","#2c3a8e","#8c5cb0","#40d4d4","#e4e43a","#3ec43e","#4a86c0","#b4403c","#94ac3c","#2c3a8e","#8c5cb0","#40d4d4","#e4e43a","#3ec43e","#4a86c0","#b4403c","#94ac3c","#2c3a8e","#8c5cb0","#40d4d4","#e4e43a","#3ec43e","#4a86c0","#b4403c","#94ac3c","#2c3a8e"]}}}},
{"data":{"name":"Lnote"},"mark":{"type":"text","align":"left","baseline":"middle","font":"DejaVu Sans","fontSize":5.5,"fontStyle":"italic","fontWeight":"bold","color":"#1a1a1a","clip":false},
"encoding":{
"x":{"field":"x","type":"quantitative","scale":{"domain":[-1.81,60],"nice":false,"zero":false},"axis":null},
"y":{"field":"y","type":"quantitative","scale":{"domain":[0.727,2.778],"nice":false,"zero":false},"axis":null},
"text":{"field":"text"}}},
{"data":{"name":"Lstxt"},"mark":{"type":"text","align":"right","baseline":"middle","font":"Liberation Sans","fontSize":10,"color":"#d2d2d2","clip":false},
"encoding":{
"x":{"field":"x","type":"quantitative","scale":{"domain":[-1.81,60],"nice":false,"zero":false},"axis":null},
"y":{"field":"y","type":"quantitative","scale":{"domain":[0.727,2.778],"nice":false,"zero":false},"axis":null},
"text":{"field":"text"}}}
]
},
{
"width":503,"height":414,
"resolve":{"axis":{"x":"independent","y":"independent"}},
"layer":[
{"data":{"name":"Rbox"},"mark":{"type":"rect","fill":"#ffffff","clip":false},
"encoding":{
"x":{"field":"x1","type":"quantitative","scale":{"domain":[4.75,43.6],"nice":false,"zero":false},
"axis":{"orient":"bottom","values":[6,8,12,14,16,18,22,24,26,28,32,34,36,38,42],"labels":false,"title":null,"domain":false,"ticks":true,"tickSize":3,"tickColor":"#b8b8b8","grid":true,"gridColor":"#d6d6d6","gridWidth":1.3}},
"x2":{"field":"x2"},
"y":{"field":"y1","type":"quantitative","scale":{"domain":[-100,81.3],"nice":false,"zero":false},
"axis":{"orient":"left","values":[-95,-90,-85,-80,-70,-65,-60,-55,-45,-40,-35,-30,-20,-15,-10,-5,5,10,15,20,30,35,40,45,55,60,65,70,80],"labels":false,"title":null,"domain":false,"ticks":true,"tickSize":3,"tickColor":"#b8b8b8","grid":true,"gridColor":"#d6d6d6","gridWidth":1.3}},
"y2":{"field":"y2"}}},
{"data":{"name":"Rdark"},"mark":{"type":"rect","fill":"#2d2d2d","clip":false},
"encoding":{
"x":{"field":"x1","type":"quantitative","scale":{"domain":[4.75,43.6],"nice":false,"zero":false},"axis":null},
"x2":{"field":"x2"},
"y":{"field":"y1","type":"quantitative","scale":{"domain":[-100,81.3],"nice":false,"zero":false},"axis":null},
"y2":{"field":"y2"}}},
{"data":{"name":"Rstat"},"mark":{"type":"rect","fill":"#000000","stroke":"#a8a8a8","strokeWidth":1,"clip":false},
"encoding":{
"x":{"field":"x1","type":"quantitative","scale":{"domain":[4.75,43.6],"nice":false,"zero":false},"axis":null},
"x2":{"field":"x2"},
"y":{"field":"y1","type":"quantitative","scale":{"domain":[-100,81.3],"nice":false,"zero":false},"axis":null},
"y2":{"field":"y2"}}},
{"data":{"name":"R"},"mark":{"type":"line","strokeWidth":1,"interpolate":"monotone","clip":true},
"encoding":{
"x":{"field":"t","type":"quantitative","scale":{"domain":[4.75,43.6],"nice":false,"zero":false},
"axis":{"orient":"bottom","values":[10,20,30,40],"title":"time (ns)","titleX":462,"titleY":24.3,"titleBaseline":"middle","titleAlign":"center","titleColor":"#d8d8d8","titleFont":"DejaVu Sans","titleFontSize":12,"titleFontWeight":"normal","labelColor":"#d8d8d8","labelFont":"DejaVu Sans","labelFontSize":12,"labelPadding":1,"labelFlush":false,"labelOverlap":false,"tickSize":6,"tickColor":"#c0c0c0","domain":false,"grid":true,"gridColor":"#a8a8a8","gridWidth":1.2}},
"y":{"field":"v","type":"quantitative","scale":{"domain":[-100,81.3],"nice":false,"zero":false},
"axis":{"orient":"left","values":[-75,-50,-25,0,25,50,75],"labelExpr":"datum.value == 0 ? '0' : (datum.value < 0 ? '-' + format(-datum.value, '.1f') : format(datum.value, '.1f'))","title":"Y0 (mV)","titleX":-57,"titleY":224,"titleAngle":270,"titleAlign":"center","titleBaseline":"middle","titleColor":"#d8d8d8","titleFont":"DejaVu Sans","titleFontSize":12,"titleFontWeight":"normal","labelColor":"#d8d8d8","labelFont":"DejaVu Sans","labelFontSize":12,"labelPadding":1,"labelFlush":false,"labelOverlap":false,"tickSize":6,"tickColor":"#c0c0c0","domain":false,"grid":true,"gridColor":"#a8a8a8","gridWidth":1.2}},
"color":{"field":"k","type":"nominal","legend":null,
"scale":{"domain":[1,2,3,4,5,6,7,8,9,10,11,12,13,14,15,16,17,18,19,20],
"range":["#40d4d4","#e4e43a","#3ec43e","#4a86c0","#b4403c","#94ac3c","#2c3a8e","#8c5cb0","#40d4d4","#e4e43a","#3ec43e","#4a86c0","#b4403c","#94ac3c","#2c3a8e","#8c5cb0","#40d4d4","#e4e43a","#3ec43e","#2c3a8e"]}}}},
{"data":{"name":"Rcur"},"mark":{"type":"point","shape":"square","size":14,"filled":false,"stroke":"#000000","strokeWidth":1,"opacity":1,"clip":true},
"encoding":{
"x":{"field":"t","type":"quantitative","scale":{"domain":[4.75,43.6],"nice":false,"zero":false},"axis":null},
"y":{"field":"v","type":"quantitative","scale":{"domain":[-100,81.3],"nice":false,"zero":false},"axis":null}}},
{"data":{"name":"Rnote"},"mark":{"type":"text","align":"left","baseline":"middle","font":"DejaVu Sans","fontSize":11,"fontStyle":"italic","fontWeight":"bold","color":"#1a1a1a","clip":false},
"encoding":{
"x":{"field":"x","type":"quantitative","scale":{"domain":[4.75,43.6],"nice":false,"zero":false},"axis":null},
"y":{"field":"y","type":"quantitative","scale":{"domain":[-100,81.3],"nice":false,"zero":false},"axis":null},
"text":{"field":"text"}}},
{"data":{"name":"Rlab"},"mark":{"type":"text","align":"center","baseline":"middle","font":"DejaVu Sans","fontSize":12,"fontStyle":"italic","fontWeight":"bold","color":"#1a1a1a","clip":false},
"encoding":{
"x":{"field":"x","type":"quantitative","scale":{"domain":[4.75,43.6],"nice":false,"zero":false},"axis":null},
"y":{"field":"y","type":"quantitative","scale":{"domain":[-100,81.3],"nice":false,"zero":false},"axis":null},
"text":{"field":"text"}}},
{"data":{"name":"Rstxt"},"mark":{"type":"text","align":"right","baseline":"middle","font":"DejaVu Sans","fontSize":12.5,"color":"#e0e0e0","clip":false},
"encoding":{
"x":{"field":"x","type":"quantitative","scale":{"domain":[4.75,43.6],"nice":false,"zero":false},"axis":null},
"y":{"field":"y","type":"quantitative","scale":{"domain":[-100,81.3],"nice":false,"zero":false},"axis":null},
"text":{"field":"text"}}}
]
}
]
}
